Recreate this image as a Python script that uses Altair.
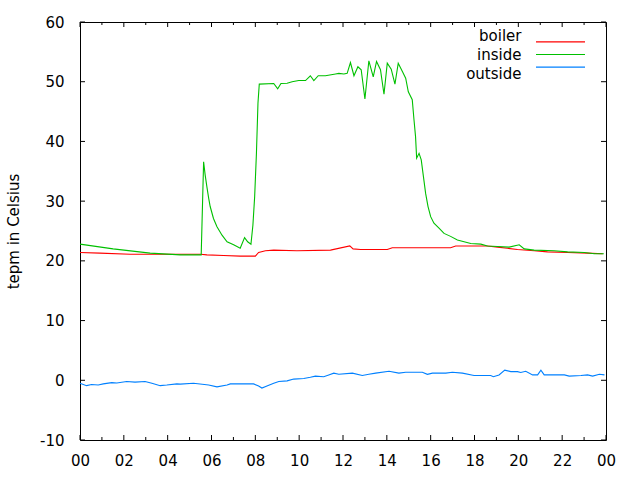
import altair as alt
import pandas as pd

series_names = ["boiler", "inside", "outside"]
series_colors = ["#ff0000", "#00c000", "#0080ff"]

boiler_hours = [0, 0.91, 2.29, 4.19, 5.49, 5.79, 6.55, 7.31, 8.0, 8.15, 8.46, 8.84,
                9.9, 11.43, 12.31, 12.46, 12.8, 14.02, 14.25, 16.91, 17.14, 18.59,
                19.05, 19.5, 19.96, 20.72, 21.33, 22.25, 23.16, 23.85]
boiler_temps = [21.4, 21.3, 21.1, 21.1, 21.1, 21.0, 20.9, 20.8, 20.8, 21.4, 21.7, 21.8,
                21.7, 21.8, 22.5, 22.0, 21.9, 21.9, 22.2, 22.2, 22.5, 22.5,
                22.3, 22.1, 21.9, 21.7, 21.5, 21.4, 21.3, 21.2]

inside_hours = [0, 1.51, 3.2, 4.57, 5.49, 5.53, 5.64, 5.71, 5.79, 5.87, 5.94, 6.09,
                6.25, 6.48, 6.71, 7.01, 7.31, 7.51, 7.65, 7.80, 7.89, 7.97, 8.05,
                8.12, 8.18, 8.84, 9.02, 9.17, 9.45, 9.68, 9.98, 10.29, 10.51, 10.67,
                10.87, 11.2, 11.66, 11.81, 12.04, 12.19, 12.34, 12.50, 12.68, 12.83,
                13.0, 13.18, 13.38, 13.53, 13.71, 13.87, 14.02, 14.20, 14.37, 14.52,
                14.71, 14.86, 14.98, 15.16, 15.24, 15.31, 15.36, 15.47, 15.57, 15.67,
                15.77, 15.88, 16.0, 16.15, 16.38, 16.61, 16.91, 17.22, 17.83, 18.29,
                18.59, 19.05, 19.58, 20.04, 20.27, 20.72, 21.63, 22.25, 23.01, 23.47,
                23.9]
inside_temps = [22.8, 22.0, 21.3, 21.0, 21.0, 21.0, 36.6, 34.4, 32.4, 30.5, 29.1, 27.1,
                25.7, 24.3, 23.2, 22.7, 22.1, 23.9, 23.2, 22.8, 26.0, 30.8, 38.0,
                46.4, 49.6, 49.7, 48.8, 49.7, 49.75, 50.0, 50.2, 50.2, 51.0, 50.2,
                51.0, 51.0, 51.3, 51.4, 51.3, 51.4, 53.2, 51.0, 52.5, 52.0,
                47.1, 53.5, 50.8, 53.4, 52.0, 47.9, 53.1, 52.1, 49.6, 53.1,
                51.7, 50.6, 48.3, 47.0, 43.6, 40.8, 37.2, 38.0, 36.9, 34.1,
                31.3, 29.1, 27.4, 26.3, 25.5, 24.6, 24.1, 23.5, 22.9, 22.8,
                22.5, 22.4, 22.3, 22.7, 22.0, 21.8, 21.7, 21.5, 21.4, 21.2,
                21.2]

outside_hours = [0, 0.30, 0.53, 0.83, 1.06, 1.45, 1.68, 2.13, 2.51, 2.97, 3.28, 3.66,
                 3.96, 4.42, 4.57, 5.18, 5.87, 6.25, 6.71, 6.86, 7.31, 7.92, 8.15,
                 8.3, 8.53, 8.84, 9.07, 9.45, 9.75, 10.21, 10.51, 10.74, 11.12, 11.35,
                 11.58, 11.81, 12.43, 12.88, 13.18, 13.49, 14.1, 14.55, 14.86, 15.62,
                 15.85, 16.08, 16.69, 16.99, 17.45, 17.98, 18.74, 18.86, 19.12, 19.38,
                 19.66, 19.96, 20.11, 20.34, 20.65, 20.88, 21.03, 21.18, 22.1, 22.32,
                 22.86, 23.16, 23.39, 23.70, 23.93]
outside_temps = [-0.5, -0.9, -0.7, -0.8, -0.6, -0.4, -0.45, -0.2, -0.3, -0.2, -0.5, -0.9,
                 -0.8, -0.6, -0.65, -0.5, -0.8, -1.1, -0.8, -0.6, -0.6, -0.6, -0.95,
                 -1.3, -0.95, -0.5, -0.2, -0.1, 0.2, 0.3, 0.5, 0.7, 0.6, 0.9,
                 1.2, 1.0, 1.2, 0.8, 1.0, 1.2, 1.5, 1.2, 1.35, 1.35,
                 1.0, 1.2, 1.2, 1.35, 1.2, 0.8, 0.8, 0.6, 0.9, 1.7,
                 1.45, 1.45, 1.3, 1.5, 0.9, 0.9, 1.7, 0.9, 0.9, 0.7,
                 0.8, 0.9, 0.7, 1.0, 0.9]

x_label_hours = list(range(0, 25, 2))
x_minor_hours = list(range(1, 24, 2))
y_tick_values = list(range(-10, 61, 10))

FONT = "DejaVu Sans"
FS = 15
W, H = 526, 418

rows = []
for name, hs, ts in zip(series_names,
                        [boiler_hours, inside_hours, outside_hours],
                        [boiler_temps, inside_temps, outside_temps]):
    for h, t in zip(hs, ts):
        rows.append({"series": name, "hour": h, "temp": t})
df = pd.DataFrame(rows)

xscale = alt.Scale(domain=[0, 24], nice=False, zero=False)
yscale = alt.Scale(domain=[-10, 60], nice=False, zero=False)
cscale = alt.Scale(domain=series_names, range=series_colors)

lines = alt.Chart(df).mark_line(strokeWidth=1.1).encode(
    x=alt.X("hour:Q", scale=xscale,
            axis=alt.Axis(values=x_label_hours, title=None, grid=False, ticks=False, orient="bottom",
                          domain=False, labelPadding=13, labelFontSize=FS, labelFont=FONT,
                          labelColor="black", labelOverlap=False, labelFlush=False,
                          labelExpr="datum.value == 24 ? '00' : (datum.value < 10 ? '0' + datum.value : '' + datum.value)")),
    y=alt.Y("temp:Q", scale=yscale,
            axis=alt.Axis(values=y_tick_values, title="tepm in Celsius", grid=False, ticks=False,
                          domain=False, labelPadding=16, labelFontSize=FS, labelFont=FONT,
                          labelColor="black", titleFont=FONT, titleFontSize=FS,
                          labelExpr="'' + datum.value", labelFlush=False, labelOverlap=False,
                          titleFontWeight="normal", titleColor="black", titleAngle=270,
                          titleX=-67, titleY=H / 2, titleAlign="center", titleBaseline="middle")),
    color=alt.Color("series:N", scale=cscale, legend=None),
    detail="series:N",
)

MAJ, MIN = 5, 3

def xticks(values, y0, y1):
    return alt.Chart(pd.DataFrame({"hour": values})).mark_rule(color="black", strokeWidth=1).encode(
        x=alt.X("hour:Q", scale=xscale, axis=None), y=alt.value(y0), y2=alt.value(y1))

def yticks(x0, x1):
    return alt.Chart(pd.DataFrame({"temp": y_tick_values})).mark_rule(color="black", strokeWidth=1).encode(
        y=alt.Y("temp:Q", scale=yscale, axis=None), x=alt.value(x0), x2=alt.value(x1))

tick_layers = [
    xticks(x_label_hours, H, H - MAJ), xticks(x_minor_hours, H, H - MIN),
    xticks(x_label_hours, 0, MAJ), xticks(x_minor_hours, 0, MIN),
    yticks(0, MAJ), yticks(W, W - MAJ),
]

leg_df = pd.DataFrame({"series": series_names})
leg_y = alt.Y("series:N", scale=alt.Scale(domain=series_names, range=[13.5, 51.5], padding=0), axis=None)
leg_text = alt.Chart(leg_df).mark_text(align="right", baseline="middle", font=FONT, fontSize=FS,
                                      color="black").encode(
    x=alt.value(441.5), y=leg_y, text="series:N")
leg_rule = alt.Chart(leg_df).mark_rule(strokeWidth=1.1).encode(
    x=alt.value(456), x2=alt.value(505), y=leg_y,
    color=alt.Color("series:N", scale=cscale, legend=None))

chart = alt.layer(lines, *tick_layers, leg_text, leg_rule).resolve_scale(
    y="independent").resolve_axis(x="independent").properties(
    width=W, height=H,
    padding={"left": 80, "top": 22, "right": 34, "bottom": 40},
    autosize=alt.AutoSizeParams(type="none"),
    background="white",
).configure_view(stroke="black", strokeWidth=1)

chart.save("out.html", embed_options={"renderer": "svg", "actions": False})
